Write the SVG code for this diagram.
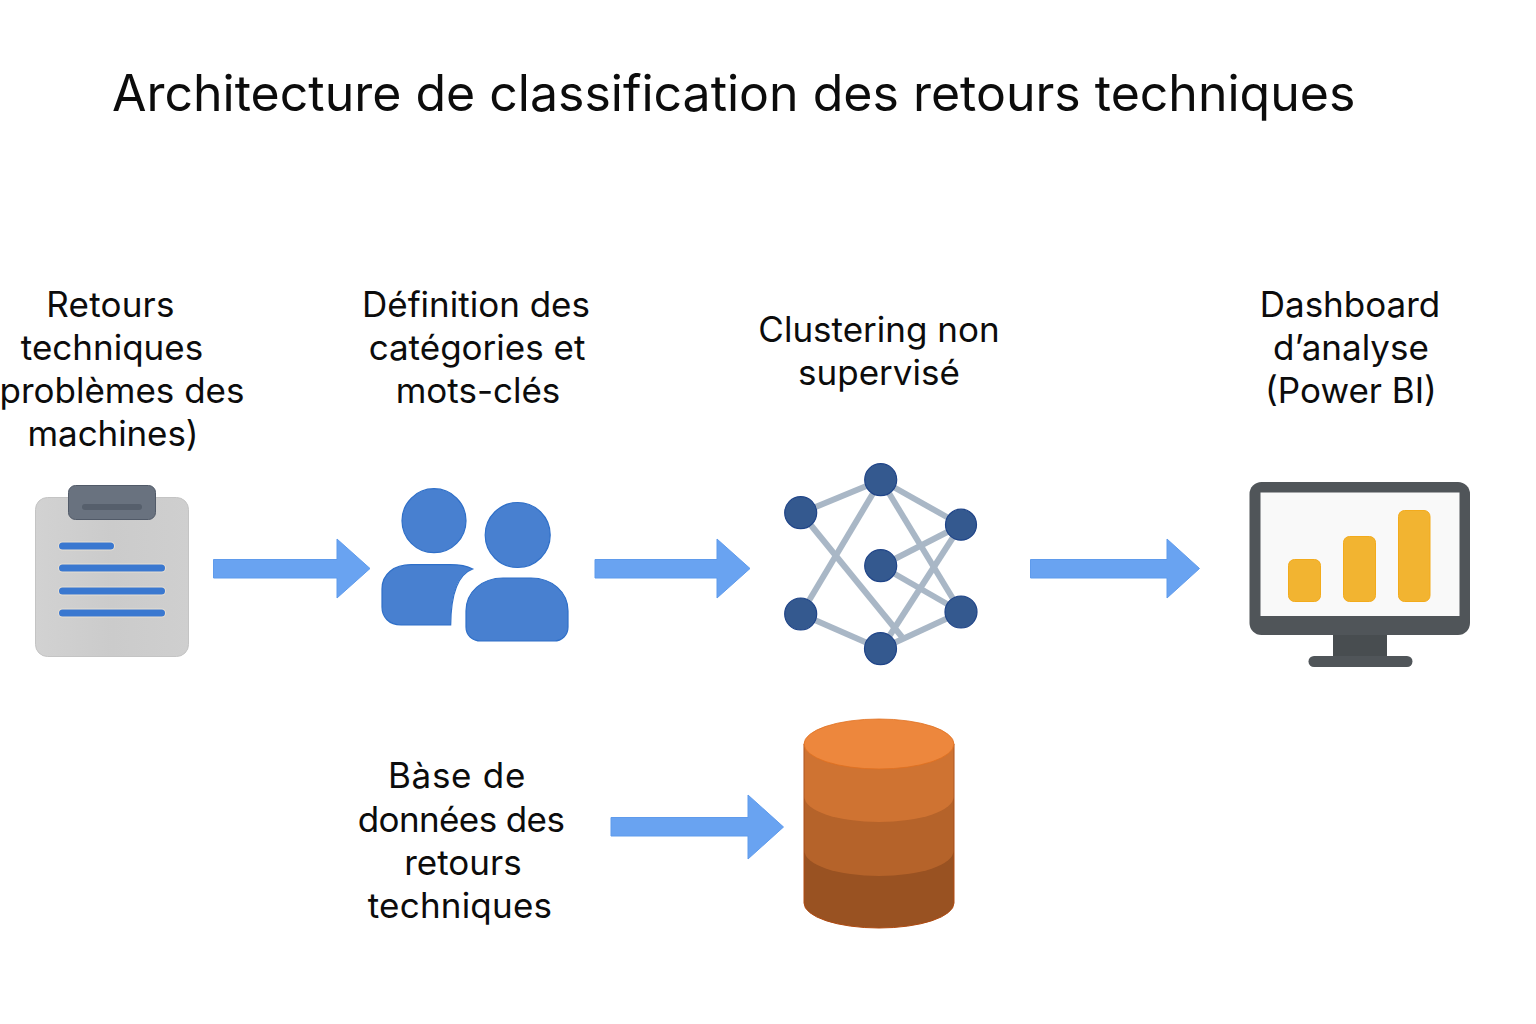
<svg xmlns="http://www.w3.org/2000/svg" width="1536" height="1024" viewBox="0 0 1536 1024">
<defs>
<linearGradient id="paper" x1="0" x2="1" y1="0" y2="0"><stop offset="0" stop-color="#d2d2d2"/><stop offset="0.5" stop-color="#cbcbcb"/><stop offset="1" stop-color="#cfcfcf"/></linearGradient>
</defs>
<style>
text{font-family:"Inter","Roboto","Liberation Sans",sans-serif;fill:#0c0c0c;text-anchor:middle;font-size:35px}
.title{font-size:50px;text-anchor:start}
.arrow{fill:#69a3f1;stroke:#5f9bec;stroke-width:1}
.halo{fill:#e6dfd4}
.line{fill:#3a78d0}
.person{fill:#4880d0;stroke:#2f6fc8;stroke-width:1.200}
.edge{stroke:#a9b7c6;stroke-width:6;fill:none}
.nn{fill:#34598f;stroke:#1f4488;stroke-width:1.200}
.bar{fill:#f2b431;stroke:#f3ab1c;stroke-width:1}
.mon{fill:#505559}
</style>
<rect width="1536" height="1024" fill="#ffffff"/>
<text id="title" class="title" x="112" y="111">Architecture de classification des retours techniques</text>
<g id="connectors">
<path class="arrow" d="M213.500 559.500H337V539L370 568.500L337 598V578H213.500Z"/>
<path class="arrow" d="M595 559.500H717V539L750 568.500L717 598V578H595Z"/>
<path class="arrow" d="M1030.500 559.500H1167V539L1199.500 568.500L1167 598V578H1030.500Z"/>
<path class="arrow" d="M611 817.500H748V795L783.500 827L748 859V836H611Z"/>
</g>
<g id="node-retours">
<text x="110.500" y="317" style="letter-spacing:0.2px">Retours</text>
<text x="112" y="360">techniques</text>
<text x="122" y="403">problèmes des</text>
<text x="113" y="446" style="letter-spacing:-0.1px">machines)</text>
<rect x="35.500" y="497.500" width="153" height="159" rx="12" fill="url(#paper)" stroke="#c4c4c4"/>
<rect x="68.500" y="485.500" width="87" height="34" rx="7" fill="#69727f" stroke="#515a68"/>
<rect x="82" y="504" width="60" height="6" rx="3" fill="#565f6c"/>
<rect class="halo" x="58" y="541.500" width="57" height="9" rx="4.500"/>
<rect class="halo" x="58" y="563.500" width="108" height="9" rx="4.500"/>
<rect class="halo" x="58" y="586.500" width="108" height="9" rx="4.500"/>
<rect class="halo" x="58" y="608.500" width="108" height="9" rx="4.500"/>
<rect class="line" x="59" y="542.500" width="55" height="7" rx="3.500"/>
<rect class="line" x="59" y="564.500" width="106" height="7" rx="3.500"/>
<rect class="line" x="59" y="587.500" width="106" height="7" rx="3.500"/>
<rect class="line" x="59" y="609.500" width="106" height="7" rx="3.500"/>
</g>
<g id="node-definition">
<text x="476" y="317">Définition des</text>
<text x="477" y="360">catégories et</text>
<text x="478" y="403">mots-clés</text>
<circle class="person" cx="434" cy="520.700" r="32"/>
<circle class="person" cx="517.700" cy="535" r="32.500"/>
<path class="person" d="M382 589C382 574 394 564.700 411 564.700H450C460 564.700 467 566 472.700 569C459 574 451 590 450.700 625H401C389 625 382 617 382 607Z"/>
<path class="person" d="M466 611C466 592 482 578 503 578H531C552 578 568 592 568 611V627C568 635 562 641 554 641H481C472 641 466 635 466 627Z"/>
</g>
<g id="node-clustering">
<text x="879" y="342">Clustering non</text>
<text x="879" y="385">supervisé</text>
<g class="edge">
<line x1="801" y1="513" x2="881" y2="480"/>
<line x1="881" y1="480" x2="961" y2="525"/>
<line x1="801" y1="513" x2="902" y2="637"/>
<line x1="801" y1="614" x2="881" y2="480"/>
<line x1="801" y1="614" x2="881" y2="649"/>
<line x1="881" y1="649" x2="961" y2="612"/>
<line x1="881" y1="649" x2="961" y2="525"/>
<line x1="881" y1="480" x2="961" y2="612"/>
<line x1="881" y1="566" x2="961" y2="525"/>
<line x1="881" y1="566" x2="961" y2="612"/>
</g>
<circle class="nn" cx="800.700" cy="512.700" r="16"/>
<circle class="nn" cx="880.700" cy="479.700" r="16"/>
<circle class="nn" cx="961" cy="524.700" r="15.500"/>
<circle class="nn" cx="880.700" cy="565.700" r="16"/>
<circle class="nn" cx="961" cy="612" r="16"/>
<circle class="nn" cx="800.700" cy="614" r="16"/>
<circle class="nn" cx="880.500" cy="648.700" r="16"/>
</g>
<g id="node-dashboard">
<text x="1350" y="317">Dashboard</text>
<text x="1351" y="360">d’analyse</text>
<text x="1351" y="403">(Power BI)</text>
<rect x="1333" y="630" width="54" height="30" fill="#484d50"/>
<rect class="mon" x="1308.500" y="656" width="104" height="11" rx="5.500"/>
<rect class="mon" x="1249.500" y="482" width="220.500" height="153" rx="12"/>
<rect x="1260.500" y="492.500" width="199" height="123.500" fill="#f9f9f9"/>
<rect class="bar" x="1288.500" y="559.500" width="32" height="42" rx="6"/>
<rect class="bar" x="1343.500" y="536.500" width="32" height="65" rx="6"/>
<rect class="bar" x="1398.500" y="510.500" width="31.500" height="91" rx="6"/>
</g>
<g id="node-base">
<text x="457" y="788" style="letter-spacing:0.7px">Bàse de</text>
<text x="461" y="832" style="letter-spacing:-0.6px">données des</text>
<text x="463" y="875">retours</text>
<text x="460" y="918" style="letter-spacing:0.2px">techniques</text>
<path d="M804 744H954V903A75 25 0 0 1 804 903Z" fill="#995222" stroke="#b04a10"/>
<path d="M804.500 744H953.500V851A74.500 25 0 0 1 804.500 851Z" fill="#b5632a"/>
<path d="M804.500 744H953.500V797A74.500 25 0 0 1 804.500 797Z" fill="#cf7332"/>
<ellipse cx="879" cy="744" rx="75" ry="25" fill="#ed873d" stroke="#e0701f" stroke-width="0.800"/>
</g>
</svg>
